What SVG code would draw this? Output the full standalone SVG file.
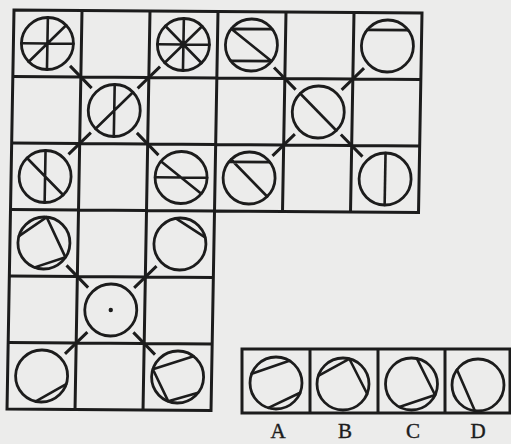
<svg xmlns="http://www.w3.org/2000/svg" width="511" height="444" viewBox="0 0 511 444">
<style>
.g{fill:none;stroke:#1c1c1c;stroke-width:3;stroke-linejoin:miter}
.c{fill:none;stroke:#1c1c1c;stroke-width:2.8}
.l{fill:none;stroke:#1c1c1c;stroke-width:2.6;stroke-linecap:round;stroke-linejoin:round}
.k{fill:none;stroke:#1c1c1c;stroke-width:3}
.t{font-family:"Liberation Serif","Times New Roman",serif;font-size:21px;fill:#1c1c1c;stroke:#1c1c1c;stroke-width:0.4;text-anchor:middle}
</style>
<defs>
<circle id="o" r="26" class="c"/>
</defs>
<rect width="511" height="444" fill="#ececeb"/>
<g transform="matrix(1 0.0074 -0.0175 1 14 10)">
 <g id="grid" class="g">
  <path d="M0,0H408V199.5H204V399H0Z"/>
  <path d="M0,66.5H408M0,133H408M0,199.5H204M0,266H204M0,332.5H204M68,0V399M136,0V399M204,0V199.5M272,0V199.5M340,0V199.5"/>
 </g>
 <g id="connectors" class="k">
  <path d="M57,55.5L79,77.5M147,55.5L125,77.5M79,122L57,144M125,122L147,144"/>
  <path d="M261,55.5L283,77.5M351,55.5L329,77.5M283,122L261,144M329,122L351,144"/>
  <path d="M57,255L79,277M147,255L125,277M79,321.5L57,343.5M125,321.5L147,343.5"/>
 </g>
 <g id="n-r1c1" transform="translate(34,33.25)"><use href="#o"/><path class="l" d="M0,-26V26M-26,0H26M-18.38,18.38L18.38,-18.38"/></g>
 <g id="n-r1c3" transform="translate(170,33.25)"><use href="#o"/><path class="l" d="M0,-26V26M-26,0H26M-18.38,18.38L18.38,-18.38M-18.38,-18.38L18.38,18.38"/></g>
 <g id="n-r1c4" transform="translate(238,33.25)"><use href="#o"/><path class="l" d="M20.49,-16.01H-20.49L20.49,16.01H-20.49"/></g>
 <g id="n-r1c6" transform="translate(374,33.25)"><use href="#o"/><path class="l" d="M-20.49,-16.01H20.49"/></g>
 <g id="n-r2c2" transform="translate(102,99.75)"><use href="#o"/><path class="l" d="M0,-26V26M-18.38,18.38L18.38,-18.38"/></g>
 <g id="n-r2c5" transform="translate(306,99.75)"><use href="#o"/><path class="l" d="M-18.38,-18.38L18.38,18.38"/></g>
 <g id="n-r3c1" transform="translate(34,166.25)"><use href="#o"/><path class="l" d="M0,-26V26M-18.38,-18.38L18.38,18.38"/></g>
 <g id="n-r3c3" transform="translate(170,166.25)"><use href="#o"/><path class="l" d="M-26,0H26M-20.49,-16.01L20.49,16.01"/></g>
 <g id="n-r3c4" transform="translate(238,166.25)"><use href="#o"/><path class="l" d="M20.49,-16.01H-20.49M-18.38,-18.38L18.38,18.38"/></g>
 <g id="n-r3c6" transform="translate(374,166.25)"><use href="#o"/><path class="l" d="M0,-26V26"/></g>
 <g id="n-r4c1" transform="translate(34,232.75)"><use href="#o"/><path class="l" d="M-25.11,-6.73L2.27,-25.9L21.81,14.16L-8.89,24.43"/></g>
 <g id="n-r4c3" transform="translate(170,232.75)"><use href="#o"/><path class="l" d="M-4.51,-25.61L25.11,-6.73"/></g>
 <g id="n-r5c2" transform="translate(102,299.25)"><use href="#o"/><circle r="2.2" fill="#1c1c1c"/></g>
 <g id="n-r6c1" transform="translate(34,365.75)"><use href="#o"/><path class="l" d="M24.73,8.03L-5.41,25.43"/></g>
 <g id="n-r6c3" transform="translate(170,365.75)"><use href="#o"/><path class="l" d="M15.65,-20.76L-24.86,-7.6L-8.89,24.43L20.76,15.65"/></g>
</g>
<g id="options">
 <path class="g" d="M242,349H510V413H242ZM310,349V413M378,349V413M445,349V413"/>
 <g id="opt-A" transform="translate(276,383)"><use href="#o"/><path class="l" d="M-24.27,-9.32L13.39,-22.29M24.11,9.74L-7.6,24.86"/></g>
 <g id="opt-B" transform="translate(343,384)"><use href="#o"/><path class="l" d="M-24.73,-8.03L6.29,-25.23L24.11,9.74"/></g>
 <g id="opt-C" transform="translate(411.5,384)"><use href="#o"/><path class="l" d="M5.41,-25.43L23.56,10.99L-12.21,22.96"/></g>
 <g id="opt-D" transform="translate(478,385)"><use href="#o"/><path class="l" d="M-21.03,-15.28L-3.17,25.81"/></g>
 <text class="t" x="278" y="438">A</text>
 <text class="t" x="345" y="438">B</text>
 <text class="t" x="413" y="438">C</text>
 <text class="t" x="478" y="438">D</text>
</g>
</svg>
